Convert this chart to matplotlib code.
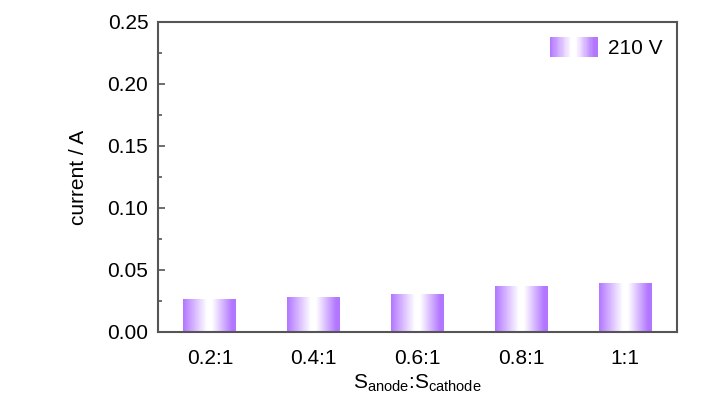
import numpy as np
import matplotlib
matplotlib.use('Agg')
import matplotlib.pyplot as plt
from matplotlib.patches import Rectangle
from matplotlib.legend_handler import HandlerBase
from matplotlib.ticker import MultipleLocator, FormatStrFormatter

categories = ['0.2:1', '0.4:1', '0.6:1', '0.8:1', '1:1']
current_210v = [0.026, 0.028, 0.030, 0.037, 0.039]
series_label = '210 V'

plt.rcParams['font.family'] = ['Liberation Sans', 'DejaVu Sans']
plt.rcParams['mathtext.default'] = 'regular'

purple = np.array([178, 118, 255]) / 255.0
white = np.ones(3)


def gradient_profile(n=200):
    # purple at both edges, white in the middle
    x = np.linspace(0, 1, n)
    t = np.zeros(n)
    left = x < 0.45
    t[left] = 1 - x[left] / 0.45
    right = x > 0.55
    t[right] = np.clip((x[right] - 0.55) / 0.38, 0, 1)
    return white * (1 - t[:, None]) + purple * t[:, None]


grad = gradient_profile()


class GradientHandler(HandlerBase):
    def create_artists(self, legend, orig_handle, xdescent, ydescent,
                       width, height, fontsize, trans):
        n = 40
        cols = gradient_profile(n)
        w = width / n
        out = []
        for i in range(n):
            r = Rectangle((-xdescent + i * w, -ydescent), w * 1.05, height,
                          facecolor=cols[i], edgecolor='none', transform=trans)
            out.append(r)
        return out


fig = plt.figure(figsize=(7.28, 3.99), dpi=100)
ax = fig.add_axes([0.217, 0.168, 0.713, 0.777])

x = np.arange(len(categories))
width = 0.51
bars = ax.bar(x, current_210v, width, color='none', label=series_label)
img = grad[None, :, :]
for b in bars:
    x0, y0 = b.get_x(), b.get_y()
    ax.imshow(img, extent=(x0, x0 + b.get_width(), y0, y0 + b.get_height()),
              aspect='auto', interpolation='bilinear', zorder=2)

ax.set_xlim(-0.5, 4.5)
ax.set_ylim(0, 0.25)
ax.set_xticks(x)
ax.set_xticklabels(categories)
ax.yaxis.set_major_locator(MultipleLocator(0.05))
ax.yaxis.set_minor_locator(MultipleLocator(0.025))
ax.yaxis.set_major_formatter(FormatStrFormatter('%.2f'))

fs = 15
ax.tick_params(axis='x', length=0, pad=12, labelsize=fs)
ax.tick_params(axis='y', which='major', direction='in', length=5, width=1.2,
               color='#555555', pad=7, labelsize=fs)
ax.tick_params(axis='y', which='minor', direction='in', length=3, width=1.2,
               color='#555555')
for s in ax.spines.values():
    s.set_color('#555555')
    s.set_linewidth(1.5)

ax.set_ylabel('current / A', fontsize=fs, labelpad=14)
ax.set_xlabel('S$_{anode}$:S$_{cathode}$', fontsize=fs, labelpad=4)

ax.legend(handles=[bars], labels=[series_label], handler_map={type(bars): GradientHandler()},
          loc='upper right', frameon=False, fontsize=fs, handlelength=2.3,
          handleheight=1.1, handletextpad=0.5, borderaxespad=0.3)

fig.savefig('out.png', dpi=100)
